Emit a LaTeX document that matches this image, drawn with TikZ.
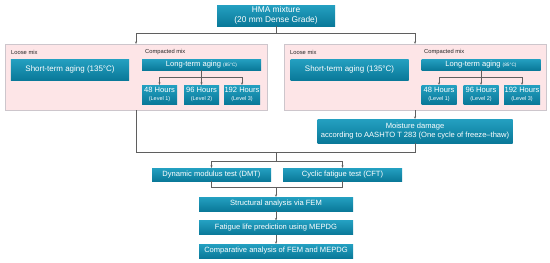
\documentclass[tikz,border=0pt]{standalone}
\usepackage{fontspec}
\setmainfont{Liberation Sans}
\usetikzlibrary{arrows.meta}
\definecolor{boxtop}{RGB}{36,160,193}
\definecolor{boxbot}{RGB}{10,121,153}
\definecolor{panelcol}{RGB}{253,229,231}
\definecolor{panelline}{RGB}{205,198,204}
\definecolor{linecol}{RGB}{95,95,95}

\tikzset{
  flowbox/.style={top color=boxtop, bottom color=boxbot, draw=none, text=white,
    inner sep=0pt, align=center, font=\fontsize{7.6}{9}\selectfont},
  wh/.style 2 args={minimum width=#1bp, minimum height=#2bp},
  panel/.style={fill=panelcol, draw=panelline, line width=0.4pt, inner sep=0pt},
  tag/.style={anchor=west, inner sep=0pt, text=black!85, font=\fontsize{5.8}{7}\selectfont},
  conn/.style={draw=linecol, line width=0.5pt},
  arr/.style={conn, -{Stealth[length=2.4pt,width=2.2pt]}},
}
\newcommand{\lvl}[1]{{\fontsize{5.5}{6}\selectfont (Level #1)}}
\newcommand{\degsmall}{{\fontsize{4.8}{5}\selectfont (85°C)}}

\begin{document}
\begin{tikzpicture}[x=1bp,y=-1bp]
\useasboundingbox (0,0) rectangle (550,262);

% top
\node[flowbox,wh={118}{21},font=\fontsize{8.4}{9.6}\selectfont] (hma) at (276,15.5) {HMA mixture\\(20 mm Dense Grade)};

% panels
\node[panel,wh={262}{66}] (panelL) at (136,77) {};
\node[panel,wh={262}{66}] (panelR) at (415,77) {};

% left panel
\node[tag] (looseL) at (11,52) {Loose mix};
\node[tag] (compL) at (145,52) {Compacted mix};
\node[flowbox,wh={118}{21},font=\fontsize{8}{9}\selectfont] (stL) at (70,69.5) {Short-term aging (135°C)};
\node[flowbox,wh={119}{11}] (ltL) at (201.5,64.5) {Long-term aging \degsmall};
\node[flowbox,wh={35}{19}] (h48L) at (159.5,94.5) {48 Hours\\[-1.5pt]\lvl{1}};
\node[flowbox,wh={35}{19}] (h96L) at (201.5,94.5) {96 Hours\\[-1.5pt]\lvl{2}};
\node[flowbox,wh={36}{19}] (h192L) at (242,94.5) {192 Hours\\[-1.5pt]\lvl{3}};

% right panel
\node[tag] (looseR) at (290,52) {Loose mix};
\node[tag] (compR) at (424,52) {Compacted mix};
\node[flowbox,wh={118}{21},font=\fontsize{8}{9}\selectfont] (stR) at (349.5,69.5) {Short-term aging (135°C)};
\node[flowbox,wh={119}{11}] (ltR) at (481,64.5) {Long-term aging \degsmall};
\node[flowbox,wh={35}{19}] (h48R) at (439,94.5) {48 Hours\\[-1.5pt]\lvl{1}};
\node[flowbox,wh={35}{19}] (h96R) at (481,94.5) {96 Hours\\[-1.5pt]\lvl{2}};
\node[flowbox,wh={36}{19}] (h192R) at (522,94.5) {192 Hours\\[-1.5pt]\lvl{3}};

\node[flowbox,wh={195}{24}] (moist) at (415,131) {Moisture damage\\according to AASHTO T 283 (One cycle of freeze–thaw)};

% tests and analysis
\node[flowbox,wh={119}{13}] (dmt) at (211.5,174.5) {Dynamic modulus test (DMT)};
\node[flowbox,wh={119}{13}] (cft) at (342.5,174.5) {Cyclic fatigue test (CFT)};
\node[flowbox,wh={154}{14}] (fem) at (276,204) {Structural analysis via FEM};
\node[flowbox,wh={154}{14}] (fat) at (276,227.5) {Fatigue life prediction using MEPDG};
\node[flowbox,wh={154}{14}] (comp) at (276,251) {Comparative analysis of FEM and MEPDG};

% connectors
\coordinate (split) at (276,33);
\draw[conn] (hma.south) -- (split);
\draw[arr] (split) -| (panelL.north);
\draw[arr] (split) -| (panelR.north);

\coordinate (forkL) at (201.5,77);
\draw[conn] (ltL.south) -- (forkL);
\draw[arr] (forkL) -| (h48L.north);
\draw[arr] (forkL) -- (h96L.north);
\draw[arr] (forkL) -| (h192L.north);

\coordinate (forkR) at (481,77);
\draw[conn] (ltR.south) -- (forkR);
\draw[arr] (forkR) -| (h48R.north);
\draw[arr] (forkR) -- (h96R.north);
\draw[arr] (forkR) -| (h192R.north);

\draw[arr] (panelR.south) -- (moist.north);

\coordinate (merge) at (276,152);
\coordinate (branch) at (276,161);
\draw[conn] (panelL.south) |- (merge);
\draw[conn] (moist.south) |- (merge);
\draw[conn] (merge) -- (branch);
\draw[arr] (branch) -| (dmt.north);
\draw[arr] (branch) -| (cft.north);

\coordinate (join) at (276,187);
\draw[conn] (dmt.south) |- (join);
\draw[conn] (cft.south) |- (join);
\draw[arr] (join) -- (fem.north);
\draw[arr] (fem) -- (fat);
\draw[arr] (fat) -- (comp);
\end{tikzpicture}
\end{document}
